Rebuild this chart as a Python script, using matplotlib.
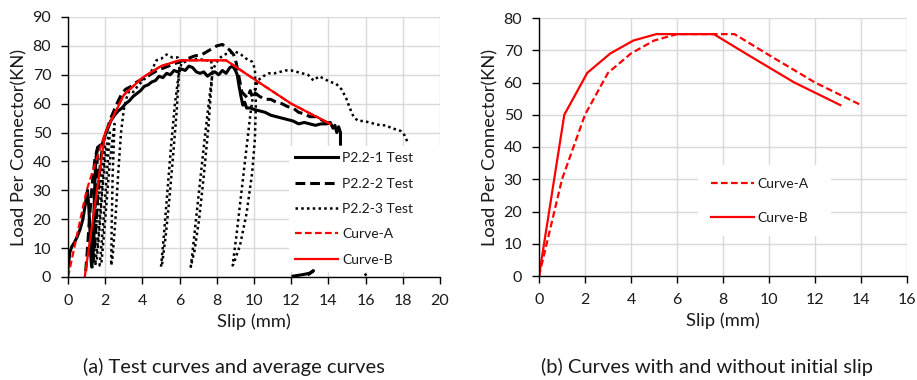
import numpy as np
import matplotlib
matplotlib.use("Agg")
import matplotlib.pyplot as plt

plt.rcParams['font.family'] = ['Lato', 'DejaVu Sans']

# ---- data ----
# P2.2-1 Test (solid black)
p1_x = [0.0, 0.1, 0.2, 0.35, 0.5, 0.65, 0.8, 0.95, 1.05, 1.12, 1.18, 1.22, 1.27, 1.33, 1.38, 1.42,
        1.47, 1.52, 1.6, 1.7, 1.85, 2.0, 2.15, 2.3, 2.5, 2.7, 2.9, 3.1, 3.3, 3.5, 3.7, 3.9, 4.1,
        4.3, 4.5, 4.7, 4.9, 5.1, 5.3, 5.5, 5.7, 5.9, 6.1, 6.3, 6.5, 6.7, 6.9, 7.1, 7.3, 7.5, 7.7,
        7.9, 8.1, 8.3, 8.5, 8.7, 8.85, 9.0, 9.1, 9.2, 9.3, 9.4, 9.5, 9.6, 9.8, 10.0, 10.3, 10.6,
        10.9, 11.2, 11.5, 11.8, 12.1, 12.4, 12.7, 13.0, 13.3, 13.6, 13.9, 14.1, 14.25, 14.35,
        14.45, 14.55, 14.65, 14.65]
p1_y = [3.0, 8.5, 10.5, 12.0, 14.0, 16.5, 20.0, 26.0, 30.0, 24.0, 16.0, 8.0, 3.5, 6.0, 18.0, 28.0,
        37.0, 42.0, 44.5, 45.5, 46.0, 49.0, 51.5, 54.0, 56.0, 57.5, 58.5, 60.0, 61.0, 62.5, 63.5,
        64.5, 66.0, 66.5, 67.5, 68.0, 69.5, 69.0, 70.5, 70.0, 71.5, 71.0, 72.0, 71.5, 73.0, 72.5,
        71.0, 70.5, 71.0, 69.5, 70.5, 71.0, 70.0, 71.5, 70.5, 72.5, 73.0, 71.5, 70.0, 66.0, 62.5,
        59.5, 60.5, 58.5, 58.5, 58.0, 57.5, 57.0, 56.0, 55.5, 55.0, 54.5, 54.0, 53.0, 53.5, 53.0,
        52.5, 53.0, 53.0, 53.5, 51.5, 52.5, 50.0, 52.0, 50.0, 46.0]
p1_tail_x = [12.1, 12.6, 13.0, 13.2, 12.95]
p1_tail_y = [0.3, 0.8, 1.3, 2.2, 1.0]

# P2.2-2 Test (dashed black)
p2_x = [0.95, 1.05, 1.15, 1.3, 1.45, 1.6, 1.5, 1.4, 1.35, 1.45, 1.6, 1.75, 1.9, 2.1, 2.3, 2.5,
        2.7, 2.9, 3.1, 3.4, 3.7, 4.0, 4.4, 4.8, 5.2, 5.6, 6.0, 6.4, 6.8, 7.2, 7.6, 8.0, 8.3, 8.5,
        8.7, 8.9, 9.05, 9.2, 9.35, 9.5, 9.65, 9.8, 9.9, 10.0, 10.3, 10.6, 10.9, 11.2, 11.5, 11.8,
        12.1, 12.4, 12.7, 13.0, 13.3, 13.6, 13.9, 14.2]
p2_y = [2.0, 10.0, 20.0, 32.0, 41.0, 45.0, 30.0, 15.0, 6.0, 12.0, 28.0, 40.0, 47.0, 51.0, 55.0,
        58.0, 61.0, 63.5, 65.0, 66.0, 67.5, 68.5, 70.0, 71.5, 72.5, 73.5, 74.5, 75.5, 76.5, 77.0,
        78.5, 80.0, 80.5, 79.5, 78.5, 77.0, 74.0, 69.0, 64.0, 63.0, 62.0, 64.5, 62.5, 64.0, 62.5,
        61.5, 61.5, 60.5, 60.0, 59.0, 58.5, 57.0, 56.5, 55.5, 55.5, 54.5, 53.5, 53.0]

# P2.2-3 Test (dotted black), with its unload / reload cycles
p3_x = [1.3, 1.45, 1.6, 1.75, 1.9, 2.0, 1.8, 1.6, 1.45, 1.55, 1.7, 1.85, 2.0, 2.15, 2.25, 2.05,
        1.85, 1.7, 1.8, 1.95, 2.1, 2.25, 2.4, 2.5, 2.4, 2.35, 2.32, 2.4, 2.55, 2.7, 2.85, 3.0,
        3.15, 3.3, 3.5, 3.8, 4.1, 4.4, 4.75, 5.0, 5.3, 5.6, 5.9, 6.0, 5.85, 5.65, 5.45, 5.25,
        5.05, 5.0, 5.15, 5.35, 5.55, 5.75, 5.95, 6.1, 6.5, 7.0, 7.4, 7.7, 7.75, 7.55, 7.3, 7.05,
        6.8, 6.6, 6.65, 6.85, 7.1, 7.35, 7.6, 7.8, 8.1, 8.4, 8.7, 9.0, 9.3, 9.6, 9.9, 10.05, 10.1,
        10.05, 9.9, 9.6, 9.25, 8.9, 8.85, 9.05, 9.3, 9.55, 9.8, 9.95, 10.2, 10.5, 10.8, 11.1,
        11.4, 11.7, 12.0, 12.3, 12.6, 12.9, 13.2, 13.5, 13.8, 14.1, 14.4, 14.7, 14.95, 15.15,
        15.35, 15.6, 15.9, 16.2, 16.5, 16.8, 17.1, 17.4, 17.7, 17.9, 18.1, 18.3]
p3_y = [3.0, 12.0, 24.0, 35.0, 43.0, 46.0, 28.0, 12.0, 4.0, 6.0, 17.0, 30.0, 41.0, 48.0, 50.0,
        32.0, 15.0, 4.0, 5.0, 16.0, 28.0, 40.0, 48.0, 53.0, 35.0, 18.0, 4.0, 7.0, 20.0, 36.0,
        50.0, 58.0, 62.0, 64.5, 64.0, 66.5, 68.5, 70.0, 75.0, 75.5, 77.0, 76.0, 76.0, 74.0,
        58.0, 42.0, 27.0, 14.0, 4.0, 3.5, 14.0, 30.0, 46.0, 60.0, 70.0, 74.0, 75.0, 75.5, 75.0,
        75.0, 70.0, 52.0, 35.0, 20.0, 9.0, 3.5, 6.0, 18.0, 33.0, 48.0, 62.0, 72.0, 75.5, 77.0,
        77.5, 78.0, 77.0, 75.5, 74.5, 72.0, 60.0, 48.0, 36.0, 22.0, 11.0, 4.5, 4.0, 14.0, 28.0,
        42.0, 56.0, 63.0, 68.0, 69.5, 70.5, 70.5, 71.0, 71.5, 71.5, 71.0, 70.5, 70.0, 68.0,
        69.5, 68.5, 67.5, 67.0, 65.0, 62.0, 58.5, 55.5, 54.0, 54.0, 53.5, 53.0, 52.5, 52.5,
        51.5, 51.0, 50.5, 49.0, 46.0]
p3_tail_x = [15.95, 16.05]
p3_tail_y = [0.5, 1.2]

# averaged curves, panel (a)
a_x = [0, 1, 2, 3, 4, 5, 6, 8.5, 10, 12, 14.1]
a_y = [0, 30, 50, 63, 69, 73, 75, 75, 68.5, 60, 53]
b_left_x = [0.9, 2, 3, 4, 5, 6, 8.5, 10, 12, 14.1]
b_left_y = [0, 50, 63, 69, 73, 75, 75, 68.5, 60, 53]

# panel (b)
a2_x = [0, 1, 2, 3, 4, 5, 6, 8.5, 10, 12, 14]
a2_y = [0, 30, 50, 63, 69, 73, 75, 75, 68.5, 60, 53]
b2_x = [0, 1.1, 2.1, 3.1, 4.1, 5.1, 7.6, 9.1, 11.1, 13.1]
b2_y = [0, 50, 63, 69, 73, 75, 75, 68.5, 60, 53]

RED = '#ff0000'
GRID = '#d9d9d9'
TXT = '#1a1a1a'


def style_axes(ax, xmax, ymax):
    ax.set_xlim(0, xmax)
    ax.set_ylim(0, ymax)
    ax.set_xticks(np.arange(0, xmax + 1, 2))
    ax.set_yticks(np.arange(0, ymax + 1, 10))
    ax.grid(True, color=GRID, linewidth=1.0)
    ax.set_axisbelow(True)
    for s in ['top', 'right']:
        ax.spines[s].set_visible(False)
    for s in ['left', 'bottom']:
        ax.spines[s].set_color('#000000')
        ax.spines[s].set_linewidth(1.0)
    ax.tick_params(direction='out', length=5, width=1.0, color='#000000',
                   labelsize=11.5, labelcolor=TXT, pad=7)
    ax.set_xlabel('Slip (mm)', fontsize=13.2, color=TXT, labelpad=4)
    ax.set_ylabel('Load Per Connector(KN)', fontsize=13.2, color=TXT, labelpad=4)


fig = plt.figure(figsize=(9.17, 3.80), dpi=100)
ax1 = fig.add_axes([68 / 917, 103 / 380, 372 / 917, 260 / 380])
ax2 = fig.add_axes([539 / 917, 104 / 380, 368 / 917, 258 / 380])

# (a) test curves and average curves
ax1.plot(p1_x, p1_y, color='black', lw=2.2, label='P2.2-1 Test', solid_joinstyle='round')
ax1.plot(p1_tail_x, p1_tail_y, color='black', lw=2.2)
ax1.plot(p2_x, p2_y, color='black', lw=2.2, ls=(0, (3.2, 1.6)), label='P2.2-2 Test')
ax1.plot(p3_x, p3_y, color='black', lw=1.8, ls=(0, (1, 1.3)), label='P2.2-3 Test')
ax1.plot(p3_tail_x, p3_tail_y, color='black', lw=1.8, ls=(0, (1, 1.3)))
ax1.plot(a_x, a_y, color=RED, lw=1.6, ls=(0, (3, 1.5)), label='Curve-A')
ax1.plot(b_left_x, b_left_y, color=RED, lw=1.6, label='Curve-B')
style_axes(ax1, 20, 90)
leg1 = ax1.legend(loc='lower left', bbox_to_anchor=(0.594, 0.02, 0.406, 0.5), mode='expand',
                  frameon=True, fancybox=False, edgecolor='none', facecolor='white',
                  framealpha=1.0, fontsize=10, handlelength=3.1, handletextpad=0.3,
                  labelspacing=0.96, borderpad=0.45, borderaxespad=0, labelcolor=TXT)
leg1.set_zorder(1.5)  # over the grid, under the test traces

# (b) curves with and without initial slip
ax2.plot(a2_x, a2_y, color=RED, lw=1.6, ls=(0, (3, 1.5)), label='Curve-A')
ax2.plot(b2_x, b2_y, color=RED, lw=1.6, label='Curve-B')
style_axes(ax2, 16, 80)
ax2.legend(loc='upper left', bbox_to_anchor=(0.433, 0.33, 0.36, 0.1), mode='expand',
           frameon=True, fancybox=False, edgecolor='none', facecolor='white', framealpha=1.0,
           fontsize=10, handlelength=3.1, handletextpad=0.25, labelspacing=1.6,
           borderpad=0.9, borderaxespad=0, labelcolor=TXT)

fig.text(234 / 917, 1 - 367 / 380, '(a) Test curves and average curves', fontsize=14.5,
         color=TXT, ha='center', va='center')
fig.text(707 / 917, 1 - 367 / 380, '(b) Curves with and without initial slip', fontsize=14.5,
         color=TXT, ha='center', va='center')

fig.savefig('out.png', dpi=100)
